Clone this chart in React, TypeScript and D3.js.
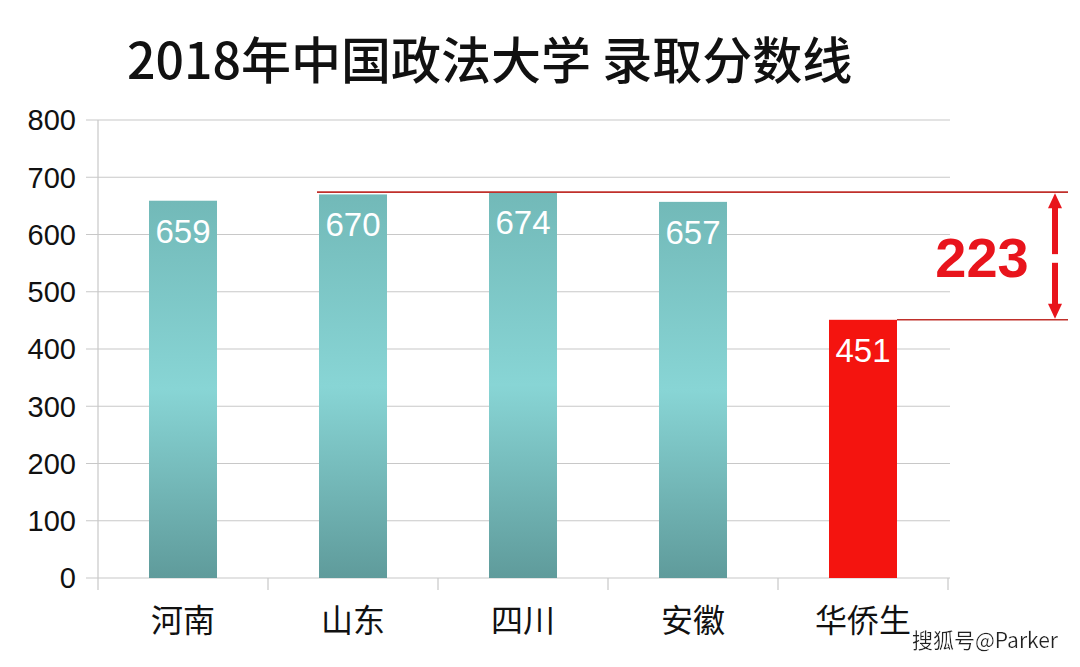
import React from 'react';
import * as d3 from 'd3';

// Data
const provinces = ['河南', '山东', '四川', '安徽', '华侨生'];
const scores = [659, 670, 674, 657, 451];
const yTicks = [0, 100, 200, 300, 400, 500, 600, 700, 800];
const title = '2018年中国政法大学 录取分数线';
const gapLabel = '223';

const W = 1080;
const H = 667;
const margin = { top: 120, right: 132, bottom: 89, left: 98 };

const sans = '"Liberation Sans", Arial, "Noto Sans CJK SC", sans-serif';
const cjk = '"Noto Sans CJK SC", sans-serif';

export default function App() {
  const x = d3.scaleBand<string>()
    .domain(provinces)
    .range([margin.left, W - margin.right])
    .paddingInner(0.6)
    .paddingOuter(0.3);
  const band = d3.scaleBand<string>().domain(provinces).range([margin.left, W - margin.right]);
  const y = d3.scaleLinear().domain([0, 800]).range([H - margin.bottom, margin.top]);

  const maxScore = d3.max(scores)!;
  const last = provinces.length - 1;
  const yHigh = y(maxScore);
  const yLow = y(scores[last]);
  const arrowX = 1055;
  const lineEnd = 1068;

  return (
    <svg width={W} height={H} style={{ position: 'absolute', left: 0, top: 0, background: '#fff' }}>
      <defs>
        <linearGradient id="teal" x1="0" y1="0" x2="0" y2="1">
          <stop offset="0%" stopColor="#72b9b8" />
          <stop offset="50%" stopColor="#88d5d5" />
          <stop offset="100%" stopColor="#5f9b9b" />
        </linearGradient>
        <filter id="halo">
          <feMorphology operator="dilate" radius="2" in="SourceAlpha" result="d" />
          <feFlood floodColor="#fff" />
          <feComposite in2="d" operator="in" result="w" />
          <feMerge><feMergeNode in="w" /><feMergeNode in="SourceGraphic" /></feMerge>
        </filter>
      </defs>

      <text x={127} y={79} fontFamily={cjk} fontSize={50} fontWeight={500} fill="#111">{title}</text>

      {/* grid */}
      {yTicks.map(t => (
        <g key={t}>
          <line x1={86} x2={950} y1={y(t)} y2={y(t)} stroke="#c8c8c8" strokeWidth={1.2} />
          <text x={76} y={y(t)} dy="0.36em" textAnchor="end" fontFamily={sans} fontSize={29} fill="#111">{t}</text>
        </g>
      ))}
      <line x1={margin.left} x2={margin.left} y1={margin.top} y2={y(0) + 12} stroke="#c8c8c8" strokeWidth={1.2} />
      {provinces.map(p => (
        <line key={p} x1={band(p)! + band.bandwidth()} x2={band(p)! + band.bandwidth()} y1={y(0)} y2={y(0) + 12} stroke="#c8c8c8" strokeWidth={1.2} />
      ))}

      {/* bars */}
      {provinces.map((p, i) => (
        <g key={p}>
          <rect x={x(p)} y={y(scores[i])} width={x.bandwidth()} height={y(0) - y(scores[i])}
            fill={i === last ? '#f4140f' : 'url(#teal)'} />
          <text x={x(p)! + x.bandwidth() / 2} y={y(scores[i]) + 42} textAnchor="middle"
            fontFamily={sans} fontSize={33} fill="#fff">{scores[i]}</text>
          <text x={band(p)! + band.bandwidth() / 2} y={y(0) + 54} textAnchor="middle"
            fontFamily={cjk} fontSize={32} fill="#111">{p}</text>
        </g>
      ))}

      {/* gap annotation */}
      <line x1={x(provinces[1])! - 2} x2={lineEnd} y1={yHigh} y2={yHigh} stroke="#c0302b" strokeWidth={1.6} />
      <line x1={x(provinces[last])! + x.bandwidth()} x2={lineEnd} y1={yLow} y2={yLow} stroke="#c0302b" strokeWidth={1.6} />
      <line x1={arrowX} x2={arrowX} y1={yHigh + 12} y2={yHigh + 62} stroke="#e8141c" strokeWidth={6} />
      <path d={`M${arrowX},${yHigh + 1} L${arrowX - 7},${yHigh + 16} L${arrowX + 7},${yHigh + 16} Z`} fill="#e8141c" />
      <line x1={arrowX} x2={arrowX} y1={yLow - 57} y2={yLow - 12} stroke="#e8141c" strokeWidth={6} />
      <path d={`M${arrowX},${yLow - 1} L${arrowX - 7},${yLow - 16} L${arrowX + 7},${yLow - 16} Z`} fill="#e8141c" />
      <text x={982} y={(yHigh + yLow) / 2 + 21} textAnchor="middle" fontFamily={sans} fontWeight="bold"
        fontSize={56} fill="#e8141c">{gapLabel}</text>

      <text x={1058} y={648} textAnchor="end" fontFamily={cjk} fontSize={21} fill="#222" filter="url(#halo)">搜狐号@Parker</text>
    </svg>
  );
}
